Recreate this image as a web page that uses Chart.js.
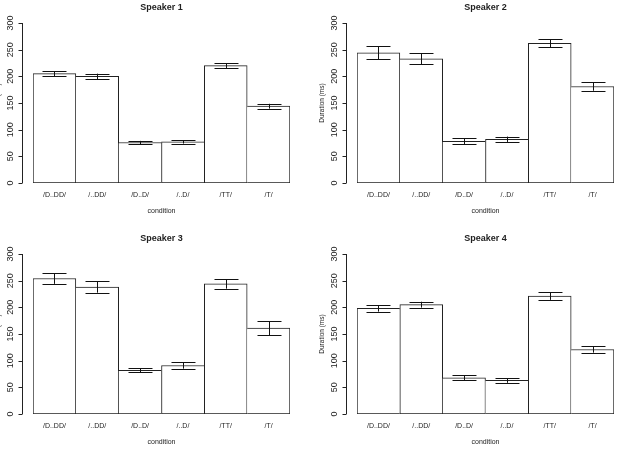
<!DOCTYPE html>
<html>
<head>
<meta charset="utf-8">
<script src="https://cdn.jsdelivr.net/npm/chart.js@4.4.1/dist/chart.umd.min.js"></script>
<style>
  body { margin: 0; background: #fff; }
  #wrap { position: relative; width: 618px; height: 449px; overflow: hidden; background: #fff; }
  canvas { position: absolute; }
</style>
</head>
<body>
<div id="wrap">
  <canvas id="chart0" width="309" height="225" style="left:0;top:0"></canvas>
  <canvas id="chart1" width="309" height="225" style="left:309px;top:0"></canvas>
  <canvas id="chart2" width="309" height="225" style="left:0;top:224px"></canvas>
  <canvas id="chart3" width="309" height="225" style="left:309px;top:224px"></canvas>
</div>
<script>
const conditions = ['/D..DD/', '/..DD/', '/D..D/', '/..D/', '/TT/', '/T/'];
const speakers = ['Speaker 1', 'Speaker 2', 'Speaker 3', 'Speaker 4'];

// mean durations (ms) per condition
const means1 = [205, 200, 76, 77, 220, 144];
const means2 = [244, 233, 78, 82, 262, 181];
const means3 = [254, 238, 82, 91, 244, 161];
const means4 = [198, 205, 68, 63, 221, 121];

// half-length of error bars (ms)
const errs1 = [5, 5, 3, 3, 4.5, 4.5];
const errs2 = [12, 10, 5.5, 5, 7.5, 8];
const errs3 = [10, 10.5, 4, 6, 9, 13];
const errs4 = [6, 5.5, 4.5, 4.5, 7, 6];

const yTicks = [0, 50, 100, 150, 200, 250, 300];

const allMeans = [means1, means2, means3, means4];
const allErrs = [errs1, errs2, errs3, errs4];

const FONT = '"Liberation Sans", Arial, sans-serif';
const INK = '#222';

// plot box of each panel inside its canvas
const boxes = [
  { l: 33, r: 290, t: 23, b: 183, titleTop: 2, condPad: 10 },
  { l: 48, r: 305, t: 23, b: 183, titleTop: 2, condPad: 10 },
  { l: 33, r: 290, t: 30, b: 190, titleTop: 9.5, condPad: 3 },
  { l: 48, r: 305, t: 30, b: 190, titleTop: 9.5, condPad: 3 }
];

// R style y axis, drawn off to the left of the bars
const rAxis = {
  id: 'rAxis',
  afterDraw(chart) {
    const ctx = chart.ctx;
    const y = chart.scales.y;
    const ax = chart.chartArea.left - 10.5;
    ctx.save();
    ctx.strokeStyle = INK;
    ctx.lineWidth = 1;
    ctx.beginPath();
    ctx.moveTo(ax, y.getPixelForValue(yTicks[0]));
    ctx.lineTo(ax, y.getPixelForValue(yTicks[yTicks.length - 1]));
    yTicks.forEach(v => {
      const py = Math.round(y.getPixelForValue(v)) + 0.5;
      ctx.moveTo(ax, py);
      ctx.lineTo(ax - 4, py);
    });
    ctx.stroke();
    ctx.fillStyle = INK;
    ctx.font = '9px ' + FONT;
    ctx.textAlign = 'center';
    ctx.textBaseline = 'middle';
    yTicks.forEach(v => {
      ctx.save();
      ctx.translate(ax - 11.5, y.getPixelForValue(v));
      ctx.rotate(-Math.PI / 2);
      ctx.fillText(String(v), 0, 0);
      ctx.restore();
    });
    ctx.font = '6.5px ' + FONT;
    ctx.save();
    ctx.translate(ax - 24, (chart.chartArea.top + chart.chartArea.bottom) / 2);
    ctx.rotate(-Math.PI / 2);
    ctx.fillText('Duration (ms)', 0, 0);
    ctx.restore();
    ctx.restore();
  }
};

const errorBars = {
  id: 'errorBars',
  afterDatasetsDraw(chart, args, opts) {
    const ctx = chart.ctx;
    const y = chart.scales.y;
    const meta = chart.getDatasetMeta(0);
    const means = chart.data.datasets[0].data;
    ctx.save();
    ctx.strokeStyle = '#111';
    ctx.lineWidth = 1;
    meta.data.forEach((bar, i) => {
      const top = y.getPixelForValue(means[i] + opts.errs[i]);
      const bot = y.getPixelForValue(means[i] - opts.errs[i]);
      const half = bar.width * 0.28;
      const x = Math.round(bar.x) + 0.5;
      ctx.beginPath();
      ctx.moveTo(x, top);
      ctx.lineTo(x, bot);
      ctx.moveTo(x - half, Math.round(top) + 0.5);
      ctx.lineTo(x + half, Math.round(top) + 0.5);
      ctx.moveTo(x - half, Math.round(bot) + 0.5);
      ctx.lineTo(x + half, Math.round(bot) + 0.5);
      ctx.stroke();
    });
    ctx.restore();
  }
};

// a shared edge between two bars is drawn once, by the taller bar
function edges(c) {
  const d = c.dataset.data;
  const i = c.dataIndex;
  const n = d.length;
  return {
    top: 1,
    bottom: 1,
    left: (i === 0 || d[i] >= d[i - 1]) ? 1 : 0,
    right: (i === n - 1 || d[i] > d[i + 1]) ? 1 : 0
  };
}

for (let i = 0; i < 4; i++) {
  const box = boxes[i];
  new Chart(document.getElementById(`chart${i}`), {
    type: 'bar',
    data: {
      labels: conditions,
      datasets: [{
        data: allMeans[i],
        backgroundColor: '#fff',
        borderColor: '#222',
        borderSkipped: false,
        borderWidth: edges,
        barPercentage: 1,
        categoryPercentage: 1
      }]
    },
    options: {
      responsive: false,
      animation: false,
      devicePixelRatio: 1,
      layout: { padding: { left: box.l, right: 309 - box.r, top: 0, bottom: 0 } },
      scales: {
        x: {
          offset: true,
          grid: { display: false, drawTicks: false },
          border: { display: false },
          ticks: { color: INK, font: { family: FONT, size: 7 }, padding: 8, maxRotation: 0, autoSkip: false },
          title: { display: true, text: 'condition', color: INK, font: { family: FONT, size: 7 }, padding: { top: 0, bottom: box.condPad } },
          afterFit: s => { s.height = 225 - box.b; }
        },
        y: {
          display: false,
          min: 0,
          max: 300,
          ticks: { stepSize: 50 }
        }
      },
      plugins: {
        legend: { display: false },
        tooltip: { enabled: false },
        title: {
          display: true,
          text: speakers[i],
          color: INK,
          font: { family: FONT, size: 9, weight: 'bold', lineHeight: 1.2 },
          padding: { top: box.titleTop, bottom: box.t - box.titleTop - 10.8 }
        },
        errorBars: { errs: allErrs[i] }
      }
    },
    plugins: [rAxis, errorBars]
  });
}
</script>
</body>
</html>
